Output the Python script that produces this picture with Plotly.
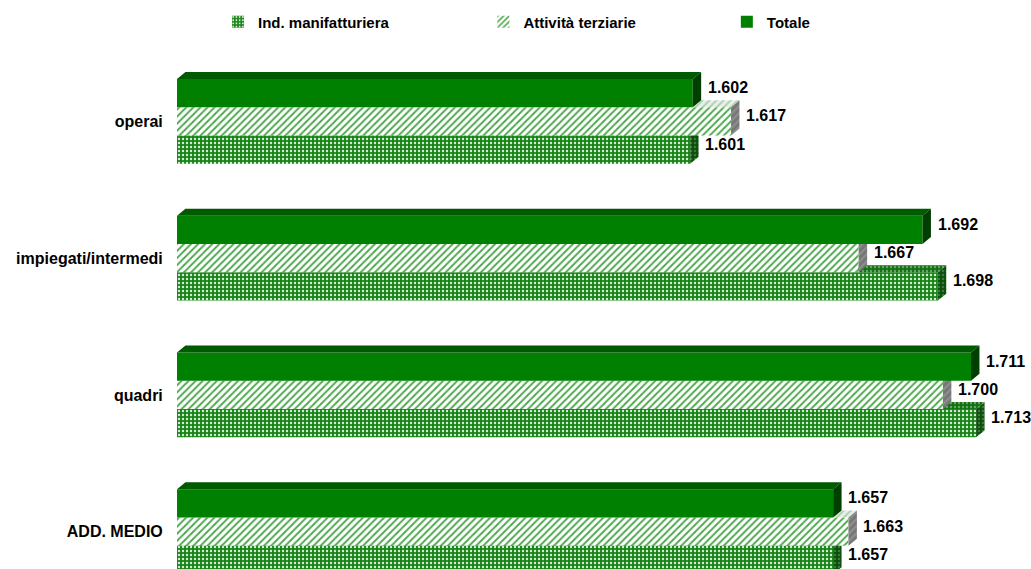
import plotly.graph_objects as go

# Ore annue per qualifica e settore
categories = ["operai", "impiegati/intermedi", "quadri", "ADD. MEDIO"]
ind_manifatturiera = [1601, 1698, 1713, 1657]
attivita_terziarie = [1617, 1667, 1700, 1663]
totale = [1602, 1692, 1711, 1657]

# Axis window and pseudo-3D geometry
X_MIN, X_MAX = 1400, 1720
Y_RANGE = [3.273, -0.5]
BAR_H = 0.207          # height of one bar in category units
DEPTH_X = 3.3          # horizontal extrusion, data units
DEPTH_Y = 0.051        # vertical extrusion, category units
FONT = "Arial, 'Liberation Sans', sans-serif"

# Drawing order: bottom bar first, so upper bars occlude lower top faces
series = [
    dict(name="Ind. manifatturiera", values=ind_manifatturiera, slot=1, ax="", legend="legend",
         front=dict(color="#188418", pattern=dict(shape=".", bgcolor="#188418", fgcolor="#d6eed6",
                                                  size=4, solidity=0.28, fillmode="replace")),
         top=dict(shape=".", bgcolor="#137013", fgcolor="#b9dcb9", size=4, solidity=0.28),
         side=dict(shape=".", bgcolor="#0c4f0c", fgcolor="#70a870", size=4, solidity=0.28)),
    dict(name="Attività terziarie", values=attivita_terziarie, slot=0, ax="2", legend="legend2",
         front=dict(color="white", pattern=dict(shape="/", bgcolor="white", fgcolor="#4ca84c",
                                                size=5, solidity=0.38, fillmode="replace")),
         top=dict(shape="/", bgcolor="#e9f0e9", fgcolor="#6fae6f", size=5, solidity=0.38),
         side=dict(shape="/", bgcolor="#777777", fgcolor="#a9a9a9", size=5, solidity=0.38)),
    dict(name="Totale", values=totale, slot=-1, ax="3", legend="legend3",
         front=dict(color="#008000"),
         top=dict(shape="", bgcolor="#005a00", fgcolor="#005a00", size=4, solidity=0.1),
         side=dict(shape="", bgcolor="#003f00", fgcolor="#003f00", size=4, solidity=0.1)),
]

fig = go.Figure()

for s in series:
    xa, ya = "x" + s["ax"], "y" + s["ax"]
    centers = [i + s["slot"] * BAR_H for i in range(len(categories))]
    marker = dict(color=s["front"]["color"], line=dict(width=0))
    if "pattern" in s["front"]:
        marker["pattern"] = s["front"]["pattern"]
    fig.add_trace(go.Bar(
        x=s["values"], y=centers, orientation="h", width=BAR_H,
        name=s["name"], marker=marker, legend=s["legend"],
        xaxis=xa, yaxis=ya, hoverinfo="skip",
    ))

    top_x, top_y, side_x, side_y = [], [], [], []
    for v, yc in zip(s["values"], centers):
        yt, yb = yc - BAR_H / 2, yc + BAR_H / 2
        top_x += [X_MIN, X_MIN + DEPTH_X, v + DEPTH_X, v, X_MIN, None]
        top_y += [yt, yt - DEPTH_Y, yt - DEPTH_Y, yt, yt, None]
        side_x += [v, v + DEPTH_X, v + DEPTH_X, v, v, None]
        side_y += [yt, yt - DEPTH_Y, yb - DEPTH_Y, yb, yt, None]

    for fx, fy, pat in ((top_x, top_y, s["top"]), (side_x, side_y, s["side"])):
        fig.add_trace(go.Scatter(
            x=fx, y=fy, mode="lines", fill="toself",
            fillcolor=pat["bgcolor"], fillpattern=pat,
            line=dict(width=0), showlegend=False, hoverinfo="skip",
            xaxis=xa, yaxis=ya,
        ))

# Value labels, Italian thousands separator
LABEL_DX = 5.1
LABEL_DY = -0.04
for s in series:
    for i, v in enumerate(s["values"]):
        fig.add_annotation(
            x=v + LABEL_DX, y=i + s["slot"] * BAR_H + LABEL_DY,
            xref="x", yref="y", xanchor="left", yanchor="middle",
            text=f"{v:,}".replace(",", "."), showarrow=False,
            font=dict(family=FONT, size=16, color="black", weight="bold"),
        )

hidden = dict(visible=False, showgrid=False, zeroline=False, fixedrange=True)
legend_style = dict(orientation="h", xanchor="left", yanchor="middle", y=1.06,
                    bgcolor="rgba(0,0,0,0)",
                    font=dict(family=FONT, size=15, color="black", weight="bold"))

fig.update_layout(
    width=1031, height=569,
    margin=dict(l=177, r=37, t=53, b=0),
    paper_bgcolor="white", plot_bgcolor="white",
    barmode="overlay",
    xaxis=dict(range=[X_MIN, X_MAX], **hidden),
    xaxis2=dict(range=[X_MIN, X_MAX], overlaying="x", **hidden),
    xaxis3=dict(range=[X_MIN, X_MAX], overlaying="x", **hidden),
    yaxis=dict(range=Y_RANGE, tickvals=list(range(len(categories))), ticktext=categories,
               showgrid=False, zeroline=False, showline=False,
               ticks="outside", ticklen=10, tickcolor="rgba(0,0,0,0)",
               tickfont=dict(family=FONT, size=16, color="black", weight="bold")),
    yaxis2=dict(range=Y_RANGE, overlaying="y", **hidden),
    yaxis3=dict(range=Y_RANGE, overlaying="y", **hidden),
    legend=dict(x=0.0502, **legend_style),
    legend2=dict(x=0.375, **legend_style),
    legend3=dict(x=0.673, **legend_style),
)

fig.write_html("out.html")
